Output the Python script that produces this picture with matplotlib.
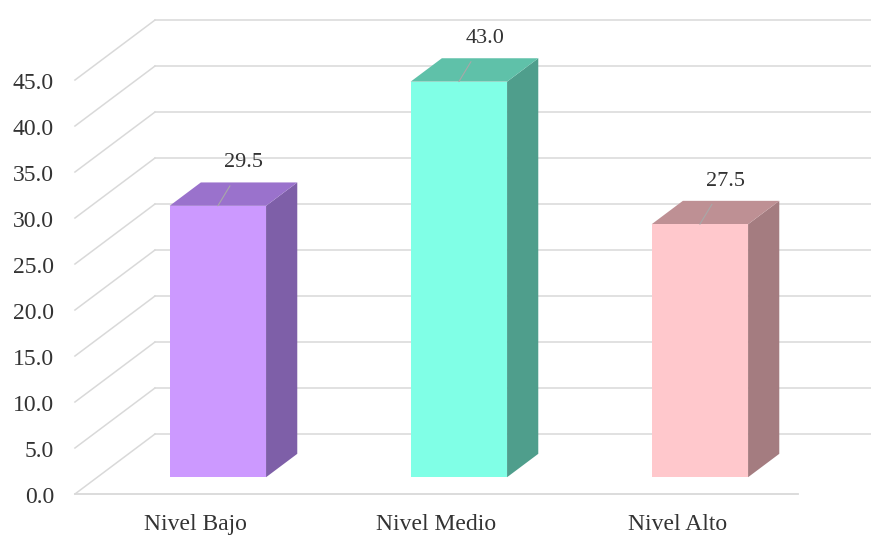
import matplotlib
matplotlib.use("Agg")
import matplotlib.pyplot as plt
from matplotlib.patches import Polygon

# Data
categories = ["Nivel Bajo", "Nivel Medio", "Nivel Alto"]
values = [29.5, 43.0, 27.5]
tick_values = [0, 5, 10, 15, 20, 25, 30, 35, 40, 45]
tick_labels = [f"{v:.1f}" for v in tick_values]

# Face colours: front, right side, top
front_colors = ["#CC99FF", "#80FFE6", "#FFC8CC"]
side_colors = ["#7E5FA8", "#4F9E8C", "#A47C80"]
top_colors = ["#9A72CC", "#5FC1A9", "#BE9094"]

grid_color = "#D9D9D9"
text_color = "#333333"
font = "Liberation Serif"

fig = plt.figure(figsize=(8.71, 5.36), dpi=100)
ax = fig.add_axes([0, 0, 1, 1])
ax.set_xlim(-0.811, 2.803)
ax.set_ylim(-4.565, 53.7)
ax.axis("off")

# Oblique projection: full floor depth shifts right and up
DX, DY = 0.332, 6.52
XMAX = 2.9


def proj(x, y, d):
    return (x + d * DX, y + d * DY)


# Side wall diagonals and back wall gridlines
for v in tick_values:
    p0 = proj(-0.5, v, 0)
    p1 = proj(-0.5, v, 1)
    ax.plot([p0[0], p1[0]], [p0[1], p1[1]], color=grid_color, lw=1.1, zorder=1)
    ax.plot([p1[0], XMAX], [p1[1], p1[1]], color=grid_color, lw=1.1, zorder=1)

# Front edge of the floor
f0 = proj(-0.5, 0, 0)
f1 = proj(len(categories) - 0.5, 0, 0)
ax.plot([f0[0], f1[0]], [f0[1], f1[1]], color=grid_color, lw=1.3, zorder=1)

# Value axis labels
for v, lab in zip(tick_values, tick_labels):
    ax.annotate(lab, xy=proj(-0.5, v, 0), xytext=(-21, -3),
                textcoords="offset pixels", ha="right", va="center",
                fontsize=17, family=font, color=text_color)

# 3D columns
width = 0.4
d0, d1 = 0.28, 0.67
for i, (cat, v) in enumerate(zip(categories, values)):
    x0, x1 = i - width / 2, i + width / 2
    front = [proj(x0, 0, d0), proj(x1, 0, d0), proj(x1, v, d0), proj(x0, v, d0)]
    side = [proj(x1, 0, d0), proj(x1, 0, d1), proj(x1, v, d1), proj(x1, v, d0)]
    top = [proj(x0, v, d0), proj(x1, v, d0), proj(x1, v, d1), proj(x0, v, d1)]
    ax.add_patch(Polygon(side, closed=True, facecolor=side_colors[i],
                         edgecolor="none", zorder=3))
    ax.add_patch(Polygon(top, closed=True, facecolor=top_colors[i],
                         edgecolor="none", zorder=3))
    ax.add_patch(Polygon(front, closed=True, facecolor=front_colors[i],
                         edgecolor="none", zorder=4))

    # Value label with a short leader line
    ax.annotate(f"{v:.1f}", xy=proj(i, v, d0), xytext=(26, 43),
                textcoords="offset pixels", ha="center", va="center",
                fontsize=16, family=font, color=text_color, zorder=6,
                arrowprops=dict(arrowstyle="-", color="#A8A8A8", lw=0.8,
                                shrinkA=9, shrinkB=0))

    # Category label under the front floor edge
    ax.annotate(cat, xy=proj(i, 0, 0), xytext=(0, -30),
                textcoords="offset pixels", ha="center", va="center",
                fontsize=17, family=font, color=text_color)

fig.savefig("out.png", dpi=100)
